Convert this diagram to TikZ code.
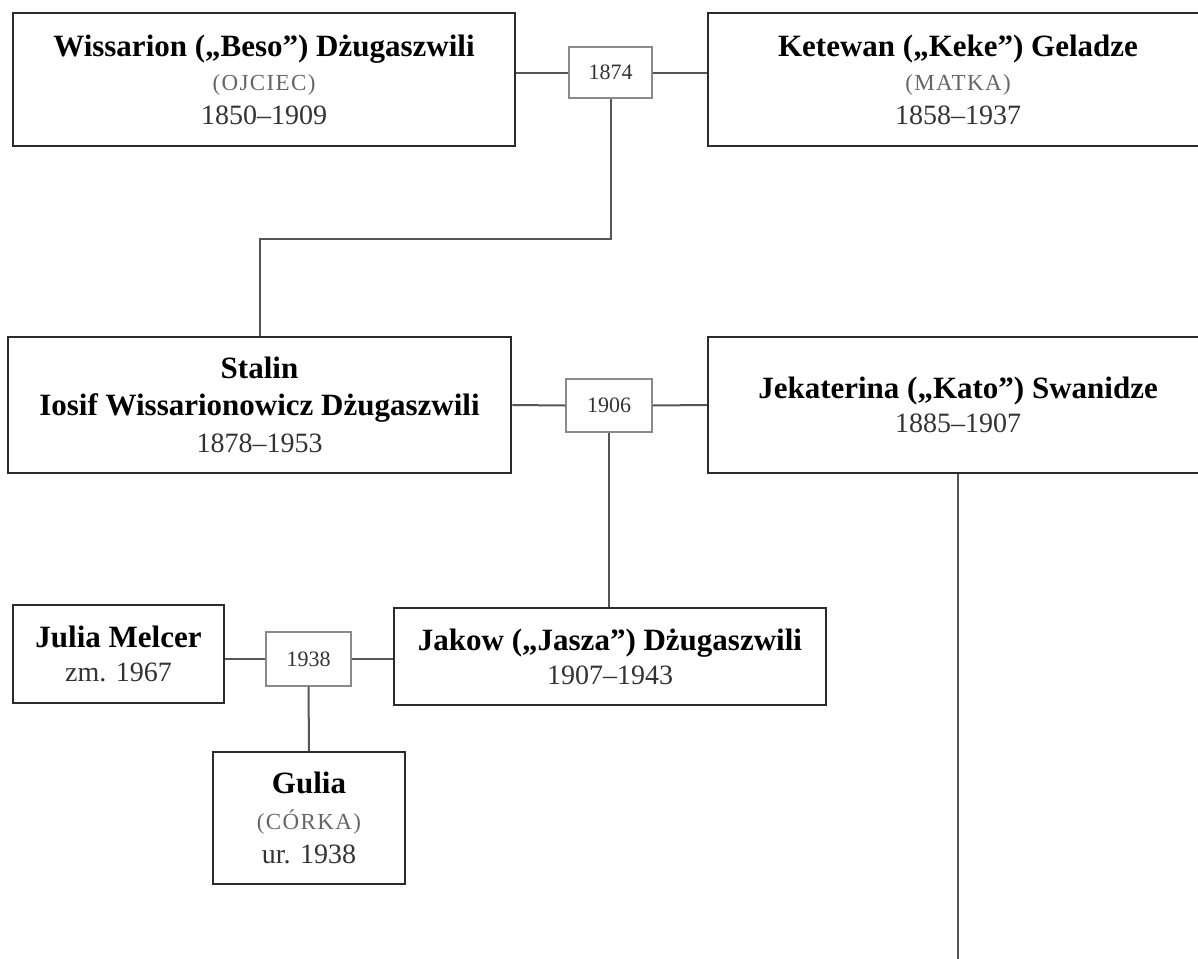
\documentclass[tikz,border=0pt]{standalone}
\usepackage{fontspec}
\setmainfont{Liberation Serif}
\newfontfamily\rolefont[LetterSpace=6]{Liberation Serif}
\usepackage{xcolor}
\usepackage{tikz}
\usetikzlibrary{positioning}

\definecolor{boxline}{HTML}{2B2B2B}
\definecolor{linkgray}{HTML}{555555}
\definecolor{yeargray}{HTML}{8A8A8A}
\definecolor{rolegray}{HTML}{666666}
\definecolor{dategray}{HTML}{333333}

\newcommand{\pname}[1]{{\fontsize{15.5}{17}\selectfont\bfseries #1}}
\newcommand{\prole}[1]{{\fontsize{11.5}{15}\selectfont\rolefont\color{rolegray}#1}}
\newcommand{\pdates}[1]{{\color{dategray}#1}}

\begin{document}
\begin{tikzpicture}[x=0.5pt,y=-0.5pt,
  person/.style={draw=boxline,line width=1.25pt,align=center,inner sep=0pt,
    font=\fontsize{14}{17}\selectfont},
  wedding/.style={draw=yeargray,line width=0.7pt,inner sep=0pt,
    font=\fontsize{11}{13}\selectfont,text=dategray},
  link/.style={draw=linkgray,line width=1pt}]
  \useasboundingbox (0,0) rectangle (1198,958);

  % parents
  \node[person,minimum width=251pt,minimum height=66.5pt] (beso) at (264,79.5)
    {\pname{Wissarion („Beso”) Dżugaszwili}\\ \prole{(OJCIEC)}\\ \pdates{1850–1909}};
  \node[person,minimum width=250pt,minimum height=66.5pt] (keke) at (958,79.5)
    {\pname{Ketewan („Keke”) Geladze}\\ \prole{(MATKA)}\\ \pdates{1858–1937}};
  \node[wedding,minimum width=41.5pt,minimum height=25.5pt] (m1874) at (610.5,72.5) {1874};

  % Stalin and first wife
  \node[person,minimum width=251.5pt,minimum height=68pt] (stalin) at (259.5,405)
    {\pname{Stalin}\\[1.5pt] \pname{Iosif Wissarionowicz Dżugaszwili}\\[1.5pt] \pdates{1878–1953}};
  \node[person,minimum width=250pt,minimum height=68pt] (kato) at (958,405)
    {\pname{Jekaterina („Kato”) Swanidze}\\ \pdates{1885–1907}};
  \node[wedding,minimum width=43pt,minimum height=26.5pt] (m1906) at (609,405.5) {1906};

  % Jakow
  \node[person,minimum width=105.5pt,minimum height=49pt] (julia) at (118.5,654)
    {\pname{Julia Melcer}\\ \pdates{zm. 1967}};
  \node[wedding,minimum width=42.5pt,minimum height=27pt] (m1938) at (308.5,659) {1938};
  \node[person,minimum width=216pt,minimum height=48.5pt] (jakow) at (610,656.5)
    {\pname{Jakow („Jasza”) Dżugaszwili}\\ \pdates{1907–1943}};
  \node[person,minimum width=96pt,minimum height=66pt] (gulia) at (309,818)
    {\pname{Gulia}\\[1pt] \prole{(CÓRKA)}\\ \pdates{ur. 1938}};

  \coordinate (fork1) at (610.5,239);
  \coordinate (katoend) at (958,962);

  \draw[link] (beso.east |- m1874.west) -- (m1874.west);
  \draw[link] (m1874.east) -- (m1874.east -| keke.west);
  \draw[link] (m1874.south) -- (fork1) -| (stalin.north);
  \draw[link] (stalin.east) -- (m1906.west);
  \draw[link] (m1906.east) -- (kato.west);
  \draw[link] (m1906.south) -- (m1906.south |- jakow.north);
  \draw[link] (kato.south) -- (katoend);
  \draw[link] (julia.east |- m1938.west) -- (m1938.west);
  \draw[link] (m1938.east) -- (m1938.east -| jakow.west);
  \draw[link] (m1938.south) -- (gulia.north);
\end{tikzpicture}
\end{document}
